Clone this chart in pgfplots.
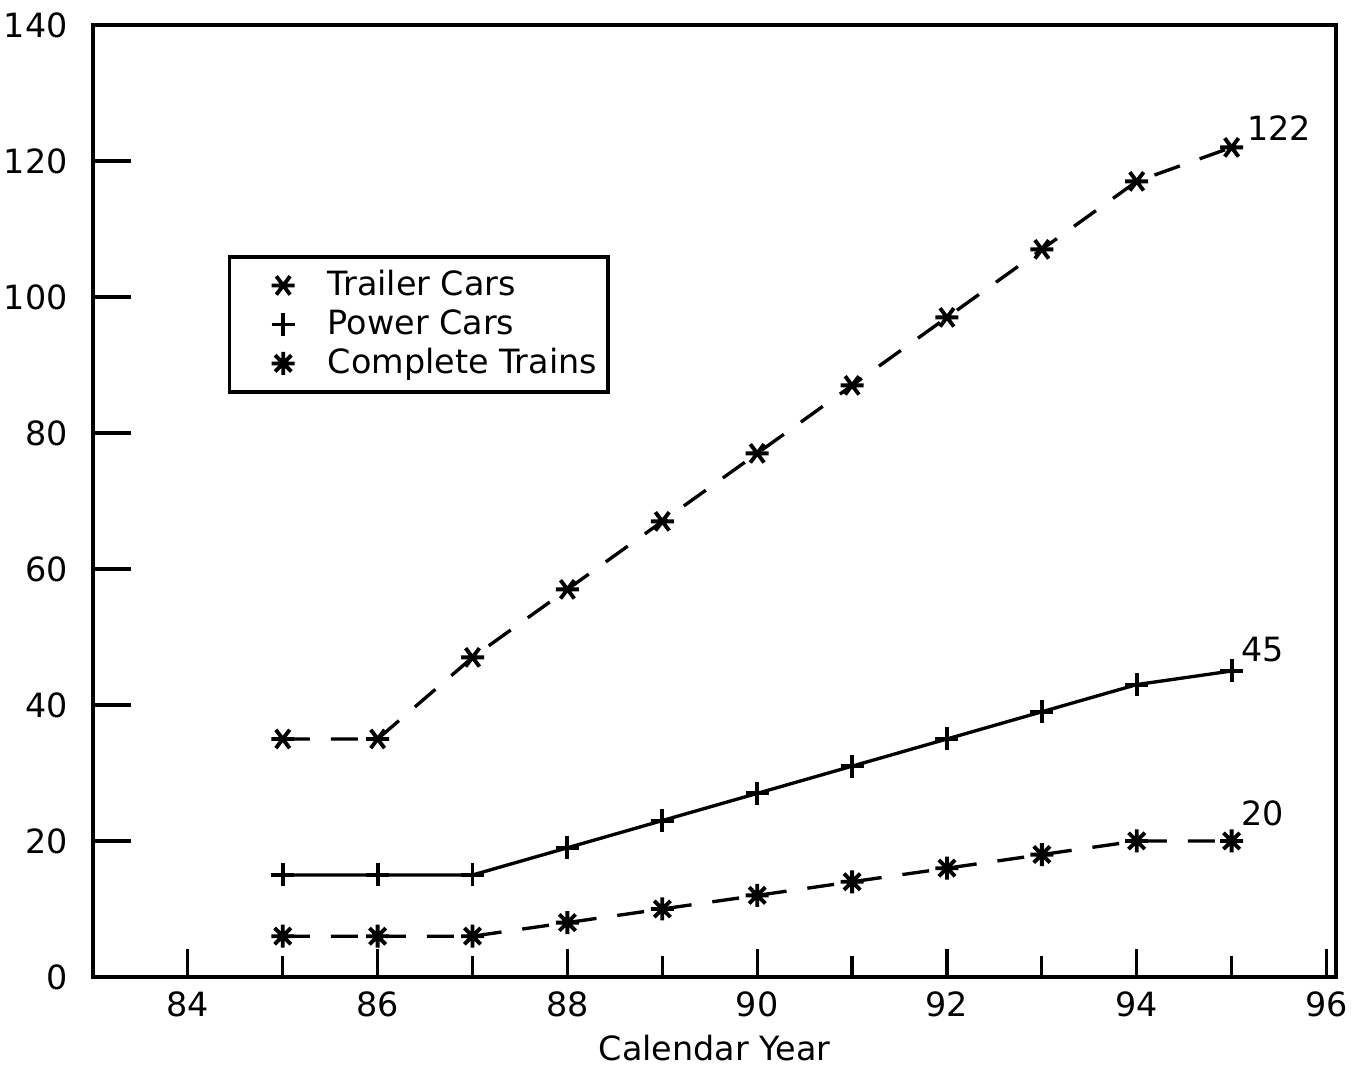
\documentclass[border=0pt]{standalone}
\usepackage{fontspec}
\setmainfont{DejaVu Sans}
\usepackage{pgfplots}
\pgfplotsset{compat=1.18}

% x with a horizontal bar
\pgfdeclareplotmark{star6h}{%
  \pgfpathmoveto{\pgfqpoint{-\pgfplotmarksize}{0pt}}%
  \pgfpathlineto{\pgfqpoint{\pgfplotmarksize}{0pt}}%
  \pgfpathmoveto{\pgfqpoint{-0.6\pgfplotmarksize}{-0.8\pgfplotmarksize}}%
  \pgfpathlineto{\pgfqpoint{0.6\pgfplotmarksize}{0.8\pgfplotmarksize}}%
  \pgfpathmoveto{\pgfqpoint{-0.6\pgfplotmarksize}{0.8\pgfplotmarksize}}%
  \pgfpathlineto{\pgfqpoint{0.6\pgfplotmarksize}{-0.8\pgfplotmarksize}}%
  \pgfusepathqstroke}
% eight-ray asterisk
\pgfdeclareplotmark{star8}{%
  \pgfpathmoveto{\pgfqpoint{-\pgfplotmarksize}{0pt}}%
  \pgfpathlineto{\pgfqpoint{\pgfplotmarksize}{0pt}}%
  \pgfpathmoveto{\pgfqpoint{0pt}{-\pgfplotmarksize}}%
  \pgfpathlineto{\pgfqpoint{0pt}{\pgfplotmarksize}}%
  \pgfpathmoveto{\pgfqpoint{-0.707\pgfplotmarksize}{-0.707\pgfplotmarksize}}%
  \pgfpathlineto{\pgfqpoint{0.707\pgfplotmarksize}{0.707\pgfplotmarksize}}%
  \pgfpathmoveto{\pgfqpoint{-0.707\pgfplotmarksize}{0.707\pgfplotmarksize}}%
  \pgfpathlineto{\pgfqpoint{0.707\pgfplotmarksize}{-0.707\pgfplotmarksize}}%
  \pgfusepathqstroke}

\begin{document}
\begin{tikzpicture}
\begin{axis}[
  at={(0,0)}, anchor=south west,
  scale only axis, width=124.3mm, height=95.2mm,
  xmin=83, xmax=96.1, ymin=0, ymax=140,
  xtick={84,86,...,96}, minor xtick={85,87,...,95},
  ytick=\empty, minor ytick={10,30,...,130},
  extra y ticks={0,20,...,140},
  extra y tick style={major tick length=3.8mm},
  tick align=inside, xtick pos=left, ytick pos=left,
  major tick length=2.8mm, minor tick length=2.1mm,
  tick style={line width=0.9pt, black},
  axis line style={line width=0.9pt},
  /pgf/number format/assume math mode=true,
  ticklabel style={font=\fontsize{9.5}{11}\selectfont},
  yticklabel style={xshift=-1.3mm},
  xticklabel style={yshift=-0.2mm},
  xlabel={Calendar Year},
  xlabel style={yshift=0.6mm},
  label style={font=\fontsize{9.5}{11}\selectfont},
  legend cell align=left,
  legend image code/.code={\path (0mm,0mm) (5.1mm,0mm); \draw[#1, only marks] plot coordinates {(4.1mm,0mm)};},
  legend style={draw=black, line width=0.9pt, at={(0.1086,0.758)}, anchor=north west,
    font=\fontsize{9.5}{11}\selectfont, inner xsep=1.1mm, inner ysep=1.05mm,
    row sep=0.3mm, column sep=3.3mm,
    nodes={inner sep=0pt, text height=2.8mm, text depth=0.8mm}},
]
\addplot[black, line width=0.95pt, dash pattern=on 2.7mm off 2.1mm,
  mark=star6h, mark size=1.15mm, mark options={solid, line width=1.1pt}]
  coordinates {(85,35) (86,35) (87,47) (88,57) (89,67) (90,77) (91,87) (92,97) (93,107) (94,117) (95,122)};
\addlegendentry{Trailer Cars}
\addplot[black, line width=0.95pt, solid,
  mark=+, mark size=1.15mm, mark options={solid, line width=1.1pt}]
  coordinates {(85,15) (86,15) (87,15) (88,19) (89,23) (90,27) (91,31) (92,35) (93,39) (94,43) (95,45)};
\addlegendentry{Power Cars}
\addplot[black, line width=0.95pt, dash pattern=on 2.7mm off 2.1mm,
  mark=star8, mark size=1.15mm, mark options={solid, line width=1.1pt}]
  coordinates {(85,6) (86,6) (87,6) (88,8) (89,10) (90,12) (91,14) (92,16) (93,18) (94,20) (95,20)};
\addlegendentry{Complete Trains}
\node[font=\fontsize{9.5}{11}\selectfont] at (axis cs:95.5,124.8) {122};
\node[font=\fontsize{9.5}{11}\selectfont] at (axis cs:95.33,48.2) {45};
\node[font=\fontsize{9.5}{11}\selectfont] at (axis cs:95.33,24.1) {20};
\end{axis}
\pgfresetboundingbox
\path (-9.3mm,-8.9mm) rectangle (126.6mm,97.7mm);
\end{tikzpicture}
\end{document}
